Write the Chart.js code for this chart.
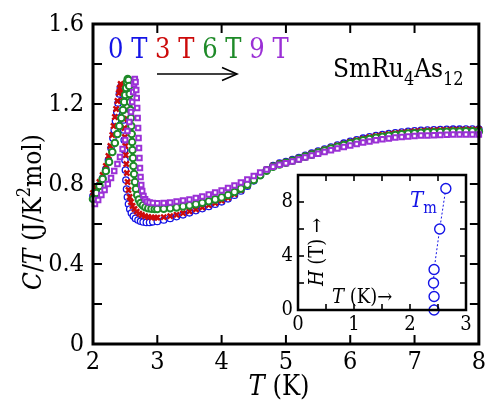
<!DOCTYPE html>
<html>
<head>
<meta charset="utf-8">
<script src="https://cdn.jsdelivr.net/npm/chart.js@4.4.0/dist/chart.umd.min.js"></script>
<style>
  html, body { margin: 0; padding: 0; background: #fff; }
  #wrap { position: relative; width: 489px; height: 403px; }
  #main { position: absolute; left: 0; top: 0; }
  #inset { position: absolute; left: 262px; top: 158px; }
</style>
</head>
<body>
<div id="wrap">
  <canvas id="main" width="489" height="403"></canvas>
  <canvas id="inset" width="215" height="185"></canvas>
</div>
<script>
/*********************************
 DATA
*********************************/
const fieldLabels = ["0 T", "3 T", "6 T", "9 T"];

const xTicks = [2, 3, 4, 5, 6, 7, 8];
const yTicks = [0, 0.4, 0.8, 1.2, 1.6];
const yMinor = [0.2, 0.6, 1.0, 1.4];

// transition region, one T list per field
const tPeak0 = [2.00,2.05,2.10,2.15,2.20,2.24,2.28,2.31,2.33,2.35,2.37,2.39,2.41,2.425,2.44,2.452,2.46,2.467,2.473,2.479,2.485,2.491,2.497,2.504,2.512,2.522,2.535,2.552,2.572,2.597,2.627,2.66,2.70,2.74,2.78,2.83,2.88,2.93];
const cPeak0 = [0.74,0.765,0.795,0.83,0.875,0.92,0.98,1.03,1.07,1.115,1.16,1.205,1.25,1.28,1.29,1.26,1.22,1.17,1.12,1.07,1.02,0.97,0.92,0.87,0.82,0.775,0.735,0.70,0.675,0.655,0.64,0.628,0.62,0.614,0.61,0.608,0.608,0.611];

const tPeak3 = [2.00,2.05,2.10,2.15,2.20,2.24,2.27,2.30,2.32,2.34,2.36,2.38,2.40,2.415,2.43,2.445,2.458,2.467,2.475,2.482,2.489,2.496,2.503,2.51,2.518,2.527,2.538,2.552,2.57,2.59,2.615,2.645,2.68,2.72,2.76,2.81,2.86,2.91,2.96];
const cPeak3 = [0.755,0.78,0.81,0.845,0.89,0.94,0.99,1.045,1.09,1.135,1.175,1.215,1.255,1.28,1.3,1.295,1.26,1.215,1.17,1.125,1.08,1.035,0.99,0.945,0.9,0.855,0.81,0.77,0.735,0.71,0.69,0.675,0.662,0.652,0.645,0.639,0.635,0.633,0.632];

const tPeak6 = [2.00,2.05,2.10,2.15,2.20,2.25,2.30,2.34,2.38,2.41,2.44,2.465,2.485,2.5,2.515,2.528,2.54,2.552,2.563,2.571,2.578,2.584,2.59,2.596,2.602,2.608,2.614,2.621,2.629,2.639,2.652,2.668,2.688,2.712,2.74,2.775,2.815,2.86,2.91,2.96];
const cPeak6 = [0.725,0.755,0.79,0.825,0.865,0.91,0.96,1.005,1.05,1.09,1.13,1.17,1.21,1.245,1.28,1.31,1.325,1.32,1.29,1.25,1.21,1.17,1.13,1.09,1.05,1.01,0.97,0.93,0.89,0.85,0.81,0.775,0.745,0.722,0.705,0.693,0.684,0.679,0.676,0.675];

const tPeak9 = [2.03,2.08,2.13,2.18,2.23,2.28,2.33,2.38,2.42,2.46,2.5,2.535,2.565,2.59,2.61,2.625,2.638,2.65,2.662,2.672,2.68,2.687,2.694,2.701,2.708,2.715,2.722,2.73,2.739,2.75,2.765,2.785,2.81,2.84,2.88,2.93];
const cPeak9 = [0.70,0.72,0.745,0.77,0.80,0.83,0.865,0.90,0.935,0.975,1.02,1.065,1.11,1.16,1.21,1.26,1.30,1.325,1.31,1.27,1.23,1.18,1.13,1.08,1.03,0.98,0.93,0.88,0.835,0.795,0.765,0.74,0.724,0.713,0.707,0.705];

// above the transition, shared T grid
const tHigh = [3.0,3.1,3.2,3.3,3.4,3.5,3.6,3.7,3.8,3.9,4.0,4.1,4.2,4.3,4.4,4.5,4.6,4.7,4.8,4.9,5.0,5.1,5.2,5.3,5.4,5.5,5.6,5.7,5.8,5.9,6.0,6.1,6.2,6.3,6.4,6.5,6.6,6.7,6.8,6.9,7.0,7.1,7.2,7.3,7.4,7.5,7.6,7.7,7.8,7.9,8.0];
const cHigh0 = [0.613,0.62,0.628,0.637,0.646,0.656,0.667,0.677,0.688,0.699,0.711,0.726,0.744,0.765,0.789,0.816,0.844,0.871,0.892,0.904,0.912,0.922,0.932,0.943,0.954,0.965,0.975,0.985,0.995,1.004,1.013,1.021,1.029,1.036,1.042,1.047,1.052,1.056,1.06,1.063,1.066,1.068,1.07,1.071,1.072,1.073,1.074,1.074,1.075,1.075,1.075];
const cHigh3 = [0.632,0.634,0.639,0.646,0.654,0.663,0.673,0.683,0.694,0.705,0.717,0.731,0.749,0.769,0.792,0.819,0.846,0.872,0.892,0.904,0.911,0.921,0.931,0.942,0.953,0.963,0.973,0.983,0.993,1.002,1.011,1.019,1.027,1.034,1.04,1.045,1.05,1.054,1.058,1.061,1.064,1.066,1.068,1.069,1.07,1.071,1.072,1.072,1.073,1.073,1.073];
const cHigh6 = [0.675,0.676,0.679,0.683,0.688,0.693,0.699,0.706,0.714,0.723,0.733,0.745,0.76,0.777,0.797,0.82,0.844,0.867,0.886,0.898,0.906,0.916,0.926,0.937,0.947,0.957,0.967,0.977,0.986,0.995,1.003,1.011,1.018,1.025,1.031,1.036,1.041,1.045,1.049,1.052,1.054,1.056,1.058,1.059,1.06,1.061,1.062,1.062,1.063,1.063,1.063];
const cHigh9 = [0.704,0.705,0.708,0.712,0.717,0.723,0.73,0.738,0.747,0.757,0.768,0.78,0.793,0.807,0.823,0.84,0.857,0.873,0.886,0.896,0.904,0.913,0.922,0.932,0.942,0.951,0.96,0.969,0.977,0.985,0.993,1.0,1.007,1.013,1.019,1.024,1.028,1.032,1.035,1.038,1.04,1.042,1.043,1.044,1.045,1.046,1.047,1.047,1.048,1.048,1.048];

// inset: transition temperature vs field
const tmField = [0, 1, 2, 3, 6, 9];
const tmTemp = [2.43, 2.43, 2.42, 2.43, 2.53, 2.64];
const insetXTicks = [0, 1, 2, 3];
const insetXMinor = [0.5, 1.5, 2.5];
const insetYTicks = [0, 4, 8];
const insetYMinor = [2, 6];

/*********************************
 STYLE
*********************************/
const SERIF = '"DejaVu Serif Condensed", "DejaVu Serif", serif';
const fieldColors = ["#1414e6", "#cc0a0a", "#1e8a28", "#9b30d6"];

function pts(ts, cs) {
  return ts.map((t, i) => ({ x: t, y: cs[i] }));
}

function richText(ctx, x, y, parts, align) {
  // parts: [text, size, italic, dy, color]
  const fontOf = p => (p[2] ? "italic " : "") + p[1] + "px " + SERIF;
  let w = 0;
  parts.forEach(p => { ctx.font = fontOf(p); w += ctx.measureText(p[0]).width; });
  let cx = align === "center" ? x - w / 2 : align === "right" ? x - w : x;
  ctx.textAlign = "left";
  ctx.textBaseline = "alphabetic";
  parts.forEach(p => {
    ctx.font = fontOf(p);
    ctx.fillStyle = p[4] || "#000";
    ctx.fillText(p[0], cx, y + (p[3] || 0));
    cx += ctx.measureText(p[0]).width;
  });
}

function seg(ctx, x1, y1, x2, y2) {
  ctx.beginPath();
  ctx.moveTo(x1, y1);
  ctx.lineTo(x2, y2);
  ctx.stroke();
}

/*********************************
 MAIN CHART
*********************************/
const markerStyles = [
  { pointStyle: "circle", pointRadius: 3.2, pointBorderWidth: 1.3, order: 4 },
  { pointStyle: "crossRot", pointRadius: 3.6, pointBorderWidth: 2.4, order: 3 },
  { pointStyle: "circle", pointRadius: 3.3, pointBorderWidth: 2, order: 2 },
  { pointStyle: "rect", pointRadius: 3.2, pointBorderWidth: 2, order: 1 }
];
const seriesData = [
  pts(tPeak0, cPeak0).concat(pts(tHigh, cHigh0)),
  pts(tPeak3, cPeak3).concat(pts(tHigh, cHigh3)),
  pts(tPeak6, cPeak6).concat(pts(tHigh, cHigh6)),
  pts(tPeak9, cPeak9).concat(pts(tHigh, cHigh9))
];

const mainDatasets = seriesData.map((d, i) => Object.assign({
  label: fieldLabels[i],
  data: d,
  showLine: false,
  borderColor: fieldColors[i],
  backgroundColor: "#fff",
  pointBorderColor: fieldColors[i],
  pointBackgroundColor: "#fff",
  clip: 5
}, markerStyles[i]));

const mainDecor = {
  id: "mainDecor",
  afterDraw(chart) {
    const { ctx, chartArea: a, scales: { x, y } } = chart;
    ctx.save();
    ctx.strokeStyle = "#000";
    ctx.lineWidth = 2;
    xTicks.slice(1, -1).forEach(v => {
      const px = x.getPixelForValue(v);
      seg(ctx, px, a.bottom, px, a.bottom - 9);
      seg(ctx, px, a.top, px, a.top + 9);
    });
    yTicks.slice(1, -1).concat(yMinor).forEach(v => {
      const py = y.getPixelForValue(v);
      seg(ctx, a.left, py, a.left + 9, py);
      seg(ctx, a.right, py, a.right - 9, py);
    });
    ctx.lineWidth = 3;
    ctx.strokeRect(a.left, a.top, a.right - a.left, a.bottom - a.top);

    // field labels
    let lx = 108;
    fieldLabels.forEach((t, i) => {
      richText(ctx, lx, 58, [[t, 27, false, 0, fieldColors[i]]], "left");
      ctx.font = "27px " + SERIF;
      lx += ctx.measureText(t + " ").width;
    });

    // arrow
    ctx.lineWidth = 1.6;
    seg(ctx, 157, 74, 237, 74);
    ctx.beginPath();
    ctx.moveTo(222, 67.5);
    ctx.lineTo(237, 74);
    ctx.lineTo(222, 80.5);
    ctx.stroke();

    // compound
    richText(ctx, 333, 77, [["SmRu", 26], ["4", 18, false, 8], ["As", 26], ["12", 18, false, 8]], "left");

    // axis titles
    richText(ctx, 279, 395, [["T", 27, true], [" (K)", 27]], "center");
    ctx.translate(41, 212);
    ctx.rotate(-Math.PI / 2);
    richText(ctx, 0, 0, [["C", 26, true], ["/", 26], ["T", 26, true], [" (J/K", 26], ["2", 18, false, -11], ["mol)", 26]], "center");
    ctx.restore();
  }
};

new Chart(document.getElementById("main"), {
  type: "scatter",
  data: { datasets: mainDatasets },
  options: {
    responsive: false,
    animation: false,
    events: [],
    layout: { padding: { top: 22, right: 9, left: 0, bottom: 0 } },
    plugins: { legend: { display: false }, tooltip: { enabled: false } },
    scales: {
      x: {
        type: "linear", min: 2, max: 8,
        afterBuildTicks: s => { s.ticks = xTicks.map(v => ({ value: v })); },
        afterFit: s => { s.height = 59; },
        grid: { display: false, drawTicks: false },
        border: { display: false },
        ticks: { color: "#000", font: { family: SERIF, size: 25 }, padding: 3, maxRotation: 0, autoSkip: false }
      },
      y: {
        type: "linear", min: 0, max: 1.6,
        afterBuildTicks: s => { s.ticks = yTicks.map(v => ({ value: v })); },
        afterFit: s => { s.width = 93; },
        grid: { display: false, drawTicks: false },
        border: { display: false },
        ticks: {
          color: "#000", font: { family: SERIF, size: 25 }, padding: 9, autoSkip: false,
          callback: v => (v === 0 ? "0" : v.toFixed(1))
        }
      }
    }
  },
  plugins: [mainDecor]
});

/*********************************
 INSET
*********************************/
const blue = fieldColors[0];

const insetDecor = {
  id: "insetDecor",
  afterDraw(chart) {
    const { ctx, chartArea: a, scales: { x, y } } = chart;
    ctx.save();
    ctx.strokeStyle = "#000";
    ctx.lineWidth = 1.6;
    insetXTicks.slice(1, -1).concat(insetXMinor).forEach(v => {
      const px = x.getPixelForValue(v);
      seg(ctx, px, a.bottom, px, a.bottom - 6);
      seg(ctx, px, a.top, px, a.top + 6);
    });
    insetYTicks.slice(1).concat(insetYMinor).forEach(v => {
      const py = y.getPixelForValue(v);
      seg(ctx, a.left, py, a.left + 6, py);
      seg(ctx, a.right, py, a.right - 6, py);
    });
    ctx.lineWidth = 2.5;
    ctx.strokeRect(a.left, a.top, a.right - a.left, a.bottom - a.top);

    richText(ctx, a.left + 34, a.bottom - 7, [["T", 20, true], [" (K)\u2192", 20]], "left");
    richText(ctx, 148, 49, [["T", 22, true, 0, blue], ["m", 16, false, 6, blue]], "left");

    ctx.translate(a.left + 25, a.top + 77);
    ctx.rotate(-Math.PI / 2);
    richText(ctx, 0, 0, [["H", 20, true], [" (T) \u2192", 20]], "center");
    ctx.restore();
  }
};

new Chart(document.getElementById("inset"), {
  type: "scatter",
  data: {
    datasets: [{
      data: pts(tmTemp, tmField),
      showLine: true,
      borderColor: blue,
      borderWidth: 1,
      borderDash: [2, 2],
      pointRadius: 5,
      pointBorderWidth: 1.4,
      pointBorderColor: blue,
      pointBackgroundColor: "#fff",
      clip: 8
    }]
  },
  options: {
    responsive: false,
    animation: false,
    events: [],
    layout: { padding: { top: 11, right: 11, left: 0, bottom: 0 } },
    plugins: { legend: { display: false }, tooltip: { enabled: false } },
    scales: {
      x: {
        type: "linear", min: 0, max: 3,
        afterBuildTicks: s => { s.ticks = insetXTicks.map(v => ({ value: v })); },
        afterFit: s => { s.height = 33; },
        grid: { display: false, drawTicks: false },
        border: { display: false },
        ticks: { color: "#000", font: { family: SERIF, size: 20 }, padding: 3, maxRotation: 0, autoSkip: false }
      },
      y: {
        type: "linear", min: 0, max: 10,
        afterBuildTicks: s => { s.ticks = insetYTicks.map(v => ({ value: v })); },
        afterFit: s => { s.width = 36; },
        grid: { display: false, drawTicks: false },
        border: { display: false },
        ticks: { color: "#000", font: { family: SERIF, size: 20 }, padding: 5, autoSkip: false }
      }
    }
  },
  plugins: [insetDecor]
});
</script>
</body>
</html>
